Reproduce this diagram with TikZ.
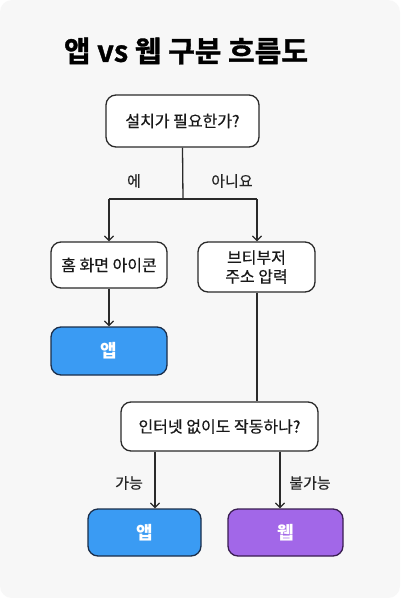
\documentclass[tikz,border=0pt]{standalone}
\usepackage{fontspec}
\setmainfont{Noto Sans CJK KR}
\newfontfamily\medfont{Noto Sans CJK KR}[FakeBold=0.5]
\newfontfamily\heavyfont{Noto Sans CJK KR Bold}[FakeBold=1.2]
\usetikzlibrary{arrows.meta,positioning,calc}
\definecolor{bgc}{HTML}{F7F7F7}
\definecolor{linec}{HTML}{2A2A2A}
\definecolor{appblue}{HTML}{3A9BF3}
\definecolor{appblueb}{HTML}{1B2E4A}
\definecolor{webpurple}{HTML}{A267E8}
\definecolor{webpurpleb}{HTML}{3A1D52}
\tikzset{
  box/.style={draw=linec, line width=1.3pt, rounded corners=10pt, fill=white,
    align=center, font=\medfont\fontsize{16}{19}\selectfont, text=black!90, inner sep=0pt},
  appbox/.style={box, fill=appblue, draw=appblueb, text=white, font=\fontsize{18}{21}\selectfont\bfseries},
  webbox/.style={box, fill=webpurple, draw=webpurpleb, text=white, font=\fontsize{18}{21}\selectfont\bfseries},
  conn/.style={draw=linec, line width=1.3pt},
  arr/.style={conn, -{Straight Barb[length=4.5pt,width=9pt,line width=1.3pt]}},
  lbl/.style={font=\medfont\fontsize{15}{18}\selectfont, text=black!85, inner sep=0pt}
}
\begin{document}
\begin{tikzpicture}[x=1pt,y=1pt]
\useasboundingbox (0,0) rectangle (400,-598);
\fill[white] (0,0) rectangle (400,-598);
\fill[bgc, rounded corners=12pt] (0,0) rectangle (400,-598);
\node[font=\heavyfont\fontsize{29}{34}\selectfont, inner sep=0pt] (title) at (186,-51) {앱 vs 웹 구분 흐름도};

\node[box, minimum width=153pt, minimum height=52pt] (q1) at (182.5,-121) {설치가 필요한가?};
\node[box, minimum width=116pt, minimum height=46pt] (a1) at (109,-265) {홈 화면 아이콘};
\node[box, minimum width=117pt, minimum height=50pt] (a2) at (256.5,-267) {브티부저\\주소 압력};
\node[appbox, minimum width=116pt, minimum height=48pt] (app1) at (109,-351) {앱};
\node[box, minimum width=197pt, minimum height=49pt] (q2) at (219.5,-426.5) {인터넷 없이도 작동하나?};
\node[appbox, minimum width=113pt, minimum height=47pt] (app2) at (144.5,-532.5) {앱};
\node[webbox, minimum width=115pt, minimum height=47pt] (web) at (285.5,-532.5) {웹};

\coordinate (split) at (183,-199);
\coordinate (yl) at (109,-199);
\coordinate (yr) at (257,-199);
\coordinate (c1) at (155,-451);
\coordinate (c2) at (280,-451);

\draw[conn] (q1.south) -- (split);
\draw[conn] (yl) -- (yr);
\draw[arr] (yl) -- (a1.north);
\draw[arr] (yr) -- (yr |- a2.north);
\draw[arr] (a1.south) -- (app1.north);
\draw[conn] (a2.south -| yr) -- (q2.north -| yr);
\draw[arr] (q2.south -| c1) -- (app2.north -| c1);
\draw[arr] (q2.south -| c2) -- (web.north -| c2);

\node[lbl] (l1) at (134,-181) {에};
\node[lbl] (l2) at (232,-181) {아니요};
\node[lbl] (l3) at (129,-483) {가능};
\node[lbl] (l4) at (310,-483) {불가능};
\end{tikzpicture}
\end{document}
